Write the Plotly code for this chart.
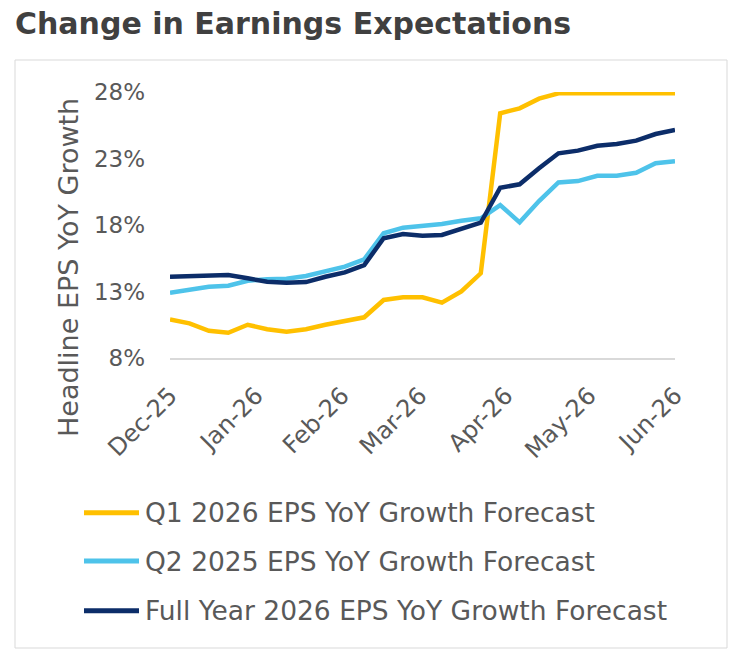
import pandas as pd
import plotly.graph_objects as go

# ---- data ----
dates = pd.date_range("2025-12-01", "2026-06-01", freq="7D")
q1_2026 = [10.9, 10.6, 10.05, 9.9, 10.5, 10.16, 9.98, 10.16, 10.5, 10.8, 11.06, 12.36, 12.56, 12.56,
           12.16, 13.0, 14.37, 26.4, 26.77, 27.5, 27.9, 27.9, 27.9, 27.9, 27.9, 27.9, 27.9]
q2_2025 = [12.91, 13.11, 13.36, 13.44, 13.81, 13.92, 13.96, 14.17, 14.49, 14.87, 15.42, 17.38, 17.8, 17.9,
           18.07, 18.32, 18.5, 19.5, 18.2, 19.8, 21.2, 21.3, 21.7, 21.7, 21.93, 22.64, 22.8]
fy_2026 = [14.11, 14.17, 14.24, 14.24, 13.99, 13.74, 13.66, 13.71, 14.11, 14.44, 14.99, 17.0, 17.32, 17.2,
           17.25, 17.68, 18.17, 20.8, 21.06, 22.26, 23.39, 23.59, 23.96, 24.09, 24.34, 24.84, 25.14]
series_names = ["Q1 2026 EPS YoY Growth Forecast",
                "Q2 2025 EPS YoY Growth Forecast",
                "Full Year 2026 EPS YoY Growth Forecast"]
series_colors = ["#FFC000", "#4EC3EA", "#0C2D69"]
tick_dates = pd.date_range("2025-12-01", "2026-06-01", freq="MS")
y_ticks = [8, 13, 18, 23, 28]
y_tick_labels = [f"{v}%" for v in y_ticks]

# ---- layout constants (pixels) ----
W, H = 740, 660
ML, MR, MT, MB = 170, 65, 92, 302
PW, PH = W - ML - MR, H - MT - MB
FONT = "DejaVu Sans"
TXT = "#595959"


def px_x(px):
    return (px - ML) / PW


def px_y(py):
    return (H - MB - py) / PH


fig = go.Figure()
for vals, name, col in zip([q1_2026, q2_2025, fy_2026], series_names, series_colors):
    fig.add_trace(go.Scatter(x=dates, y=vals, mode="lines", name=name,
                             line=dict(color=col, width=4.5), showlegend=False))

shapes = [
    dict(type="rect", xref="paper", yref="paper",
         x0=px_x(15), x1=px_x(727), y0=px_y(648), y1=px_y(60),
         line=dict(color="#D9D9D9", width=1), layer="below"),
]
annotations = [
    dict(text="<b>Change in Earnings Expectations</b>", xref="paper", yref="paper",
         x=px_x(13), y=px_y(23), xanchor="left", yanchor="middle", showarrow=False,
         font=dict(family=FONT, size=30, color="#404040")),
    dict(text="Headline EPS YoY Growth", xref="paper", yref="paper",
         x=px_x(68), y=px_y(268), xanchor="center", yanchor="middle", textangle=-90,
         showarrow=False, font=dict(family=FONT, size=27, color=TXT)),
]
leg_y = [512.7, 561, 610.7]
for ly, name, col in zip(leg_y, series_names, series_colors):
    shapes.append(dict(type="line", xref="paper", yref="paper",
                       x0=px_x(84), x1=px_x(139), y0=px_y(ly), y1=px_y(ly),
                       line=dict(color=col, width=5)))
    annotations.append(dict(text=name, xref="paper", yref="paper",
                            x=px_x(143), y=px_y(ly), xanchor="left", yanchor="middle",
                            showarrow=False, font=dict(family=FONT, size=26.5, color=TXT)))

fig.update_layout(
    width=W, height=H,
    margin=dict(l=ML, r=MR, t=MT, b=MB, pad=0),
    paper_bgcolor="white", plot_bgcolor="white",
    font=dict(family=FONT, color=TXT),
    shapes=shapes, annotations=annotations,
    showlegend=False,
)
fig.update_xaxes(
    type="date", range=[dates[0], dates[-1]],
    tickvals=tick_dates, tickformat="%b-%y", tickangle=-45,
    tickfont=dict(family=FONT, size=24, color=TXT),
    showgrid=False, zeroline=False,
    showline=True, linecolor="#D9D9D9", linewidth=2,
    ticks="", ticklabelstandoff=12,
)
fig.update_yaxes(
    range=[8, 28], tickvals=y_ticks, ticktext=y_tick_labels,
    tickfont=dict(family=FONT, size=23, color=TXT),
    showgrid=False, zeroline=False, showline=False,
    ticks="", ticklabelstandoff=24,
)

fig.write_html("out.html")
